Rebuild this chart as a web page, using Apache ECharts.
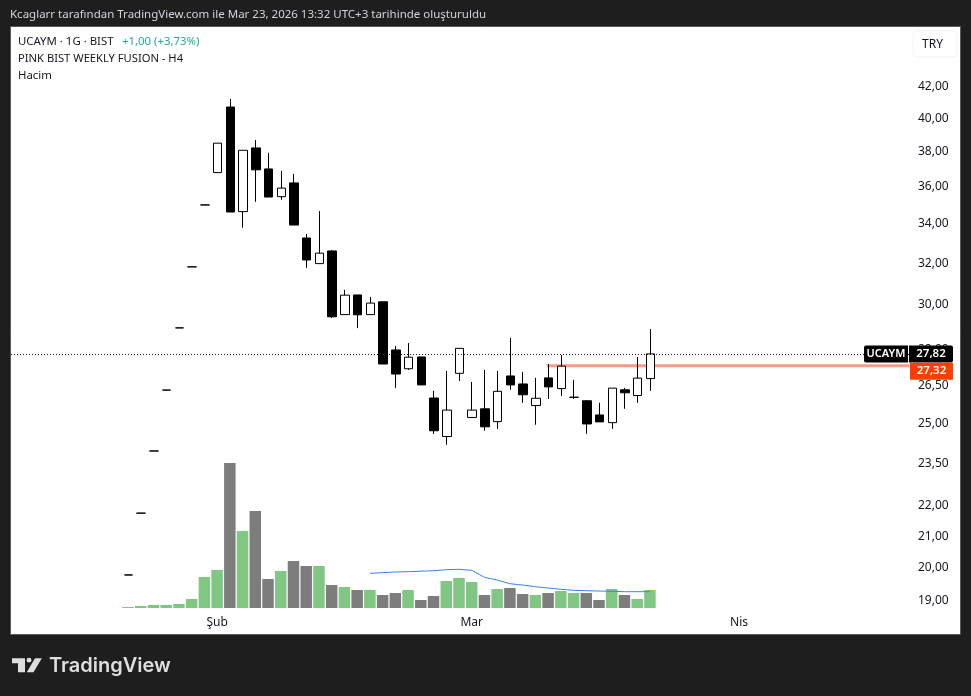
<!DOCTYPE html>
<html><head><meta charset="utf-8">
<style>html,body{margin:0;padding:0;background:#1e1e1e}#c{width:971px;height:696px}</style>
<script src="https://cdn.jsdelivr.net/npm/echarts@6/dist/echarts.min.js"></script>
</head><body><div id="c"></div>
<script>
// index of each trading day
const days = Array.from({length: 42}, (_, i) => i);
// [open, close, low, high]
const ohlc = [
 [19.78,19.78,19.78,19.78],[21.76,21.76,21.76,21.76],[23.95,23.95,23.95,23.95],[26.31,26.31,26.31,26.31],
 [28.96,28.96,28.96,28.96],[31.82,31.82,31.82,31.82],[35.01,35.01,35.01,35.01],
 [36.80,38.51,36.80,38.51],[40.72,34.63,34.63,41.23],[34.65,38.09,33.80,38.09],[38.23,36.96,35.18,38.70],
 [37.01,35.44,35.44,37.94],[35.46,35.93,35.29,36.90],[36.22,33.94,33.94,36.73],[33.27,32.16,31.77,33.48],
 [31.98,32.50,31.98,34.68],[32.61,29.46,29.41,32.66],[29.56,30.46,29.56,30.71],[30.47,29.55,28.95,30.47],
 [29.56,30.09,29.56,30.38],[30.15,27.39,27.39,30.15],[27.99,26.97,26.40,28.16],[27.19,27.68,27.14,28.29],
 [27.69,26.52,26.52,27.69],[25.99,24.71,24.59,26.28],[24.49,25.51,24.18,27.10],[27.00,28.06,26.68,28.06],
 [25.22,25.51,25.22,26.64],[25.56,24.86,24.71,27.14],[25.06,26.26,24.78,27.10],[26.89,26.52,26.32,28.51],
 [26.56,26.12,25.80,27.06],[25.69,25.98,24.94,26.81],[26.81,26.44,25.95,27.39],[26.37,27.30,26.07,27.77],
 [26.02,26.02,25.95,26.73],[25.88,24.97,24.59,25.91],[25.32,25.05,25.05,25.80],[25.02,26.39,24.78,26.39],
 [26.32,26.20,25.56,26.40],[26.09,26.80,25.80,27.69],[26.78,27.82,26.28,28.91]
];
// volume, millions
const volumes = [0.1,0.2,0.3,0.3,0.4,0.9,3.1,3.8,14.5,7.7,9.7,2.9,3.7,4.7,4.2,4.2,2.3,2.1,1.8,1.8,1.3,1.5,1.8,
 0.8,1.2,2.7,3.0,2.6,1.3,1.9,2.0,1.4,1.3,1.5,1.7,1.5,1.5,0.8,1.9,1.3,0.9,1.8];
const volumeUp = [1,1,1,1,1,1,1,1,0,1,0,0,1,0,0,1,0,1,0,1,0,0,1,0,0,1,1,1,0,1,0,0,1,0,1,1,0,0,1,0,1,1];
// 20-day volume average, from day 19
const volumeMA = [3.47,3.53,3.60,3.63,3.68,3.73,3.83,3.87,3.77,3.07,2.80,2.43,2.30,2.13,2.00,1.87,1.77,1.73,1.70,1.67,1.63,1.63,1.63];
const maStart = 19;
const priceTicks = [19,20,21,22,23.5,25,26.5,28,30,32,34,36,38,40,42];
const timeTicks = [7,27,48];
const timeNames = {7:'Şub',27:'Mar',48:'Nis'};
const lastPrice = 27.82;
const levelPrice = 27.32;
const levelStart = 32.85;
const symbol = 'UCAYM';
const fmt = v => Number(v).toFixed(2).replace('.', ',');

const XMIN = -9.19, XMAX = 61.35, PXMIN = XMIN - 0.04, PXMAX = XMAX - 0.04;
const font = '"Noto Sans"';
const chart = echarts.init(document.getElementById('c'), null, {renderer:'canvas'});
const txt = (x,y,text,fill,size,extra) => ({type:'text',x,y,z:20,silent:true,style:Object.assign({text,fill,font:`${size||11}px ${font}`,textVerticalAlign:'middle'},extra||{})});
const tag = {show:true,color:'#fff',fontFamily:font,fontSize:11.5,fontWeight:600,height:17,lineHeight:17,align:'center',verticalAlign:'middle',opacity:1};
chart.setOption({
 animation:false,
 backgroundColor:'#1e1e1e',
 grid:[
  {left:11,right:62,top:28,bottom:61,containLabel:false},
  {left:11,right:62,top:463,bottom:88,containLabel:false}
 ],
 xAxis:[
  {type:'value',gridIndex:0,min:PXMIN,max:PXMAX,axisLine:{show:false},axisTick:{show:false},splitLine:{show:false},axisLabel:{show:false}},
  {type:'value',gridIndex:1,min:XMIN,max:XMAX,axisLine:{show:false},axisTick:{show:false},splitLine:{show:false},
   axisLabel:{customValues:timeTicks,formatter:v=>timeNames[v]||'',color:'#131722',fontFamily:font,fontSize:12,margin:9,hideOverlap:false}}
 ],
 yAxis:[
  {type:'log',logBase:10,gridIndex:0,position:'right',min:18.03,max:46.0,axisLine:{show:false},axisTick:{show:false},splitLine:{show:false},
   axisLabel:{customValues:priceTicks,formatter:v=>fmt(v),color:'#131722',fontFamily:font,fontSize:12,margin:9,showMinLabel:true,showMaxLabel:true}},
  {type:'value',gridIndex:1,min:0,max:14.5,axisLine:{show:false},axisTick:{show:false},splitLine:{show:false},axisLabel:{show:false}}
 ],
 series:[
  {type:'line',name:'level',xAxisIndex:0,yAxisIndex:0,z:1,showSymbol:false,symbol:'none',silent:true,
   data:[[levelStart,levelPrice],[PXMAX,levelPrice]],lineStyle:{color:'#fb9a88',width:3}},
  {type:'bar',name:'Hacim',xAxisIndex:1,yAxisIndex:1,barWidth:11.5,z:2,
   data:days.map(i=>({value:[i,volumes[i]],itemStyle:{color:volumeUp[i]?'#81c784':'#7d7d7d'}}))},
  {type:'line',name:'Hacim MA',xAxisIndex:1,yAxisIndex:1,z:3,symbol:'none',showSymbol:false,
   data:volumeMA.map((v,k)=>[k+maStart,v]),lineStyle:{color:'#3b82ee',width:1}},
  {type:'candlestick',name:symbol,xAxisIndex:0,yAxisIndex:0,z:4,barWidth:9,
   data:days.map(i=>[i].concat(ohlc[i])),
   itemStyle:{color:'#ffffff',color0:'#000000',borderColor:'#000000',borderColor0:'#000000',borderColorDoji:'#000000',borderWidth:1},
   markLine:{silent:true,symbol:'none',animation:false,label:{show:false},
    data:[{yAxis:lastPrice}],lineStyle:{color:'#131722',type:[1,2],width:1}}},
  {type:'scatter',name:'lastLabel',xAxisIndex:0,yAxisIndex:0,z:6,symbolSize:0,silent:true,clip:false,itemStyle:{opacity:1},
   data:[[PXMAX,lastPrice]],
   label:Object.assign({},tag,{position:'right',distance:0,offset:[22,0],formatter:p=>fmt(p.value[1]),backgroundColor:'#000',width:44,borderRadius:[0,2,2,0]})},
  {type:'scatter',name:'symbolLabel',xAxisIndex:0,yAxisIndex:0,z:6,symbolSize:0,silent:true,clip:false,itemStyle:{opacity:1},
   data:[[PXMAX,lastPrice]],
   label:Object.assign({},tag,{fontSize:11,position:'left',distance:1,offset:[-22,0],formatter:symbol,backgroundColor:'#000',width:44,borderRadius:[2,0,0,2]})},
  {type:'scatter',name:'levelLabel',xAxisIndex:0,yAxisIndex:0,z:6,symbolSize:0,silent:true,clip:false,itemStyle:{opacity:1},
   data:[[PXMAX,levelPrice]],
   label:Object.assign({},tag,{position:'right',distance:1,offset:[21.5,5.5],formatter:p=>fmt(p.value[1]),backgroundColor:'#ff3d00',width:43})}
 ],
 graphic:[
  {type:'rect',z:-10,silent:true,shape:{x:10.5,y:26.5,width:950,height:608},style:{fill:'#ffffff',stroke:'#5a5a5a',lineWidth:1}},
  txt(10,15,'Kcaglarr tarafından TradingView.com ile Mar 23, 2026 13:32 UTC+3 tarihinde oluşturuldu','#d1d4dc',11.5),
  txt(18,42,'UCAYM · 1G · BIST','#131722',11.4),
  txt(122,42,'+1,00 (+3,73%)','#22ab94',11.4),
  txt(18,59,'PINK BIST WEEKLY FUSION - H4','#131722',11.2),
  txt(18,76,'Hacim','#131722',11.4),
  {type:'rect',z:19,silent:true,shape:{x:913,y:31,width:44,height:26,r:4},style:{fill:'#ffffff',stroke:'#f0f3fa',lineWidth:1}},
  txt(922,44.5,'TRY','#131722',12),
  {type:'polygon',z:20,silent:true,shape:{points:[[12,658.3],[25,658.3],[25,672.3],[18,672.3],[18,663.3],[12,663.3]]},style:{fill:'#dedede'}},
  {type:'circle',z:20,silent:true,shape:{cx:29,cy:660.2,r:2.4},style:{fill:'#dedede'}},
  {type:'polygon',z:20,silent:true,shape:{points:[[35,658.3],[41.8,658.3],[33.5,672.3],[26.8,672.3]]},style:{fill:'#dedede'}},
  txt(49,666,'TradingView','#dedede',20,{font:`600 20px Inter`})
 ]
});
</script></body></html>
